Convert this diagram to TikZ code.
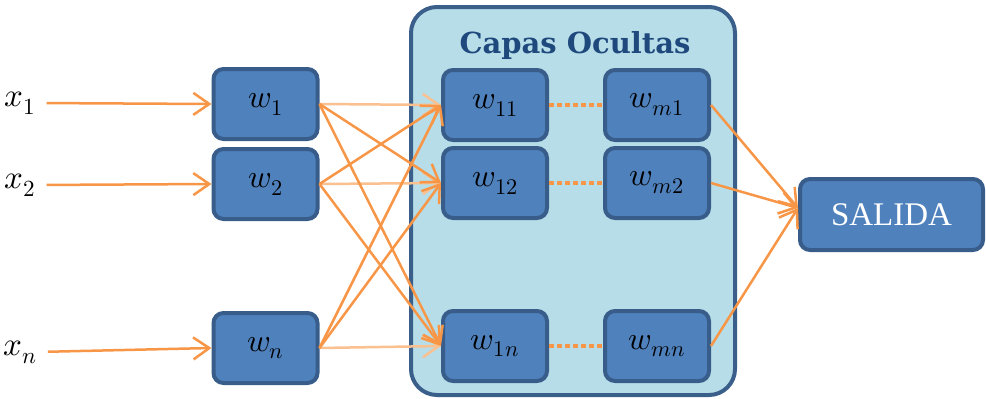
\documentclass[tikz,border=0pt]{standalone}
\usepackage{unicode-math}
\setmathfont{Latin Modern Math}
\usetikzlibrary{arrows.meta}
\newfontfamily\titlefont{DejaVu Serif}
\newfontfamily\boxfont{Liberation Serif}

\definecolor{boxfill}{RGB}{79,129,189}
\definecolor{boxline}{RGB}{56,93,138}
\definecolor{panelfill}{RGB}{183,222,232}
\definecolor{panelline}{RGB}{59,95,139}
\definecolor{link}{RGB}{247,150,70}
\definecolor{linklight}{RGB}{250,192,144}
\definecolor{titleblue}{RGB}{31,73,125}

\tikzset{
  unit/.style={draw=boxline, fill=boxfill, line width=4pt, rounded corners=10pt,
    minimum width=104pt, minimum height=70pt, inner sep=0pt,
    font=\fontsize{32}{34}\selectfont},
  outbox/.style={unit, minimum width=183pt, minimum height=71pt,
    font=\boxfont\fontsize{33}{36}\selectfont, text=white},
  panel/.style={draw=panelline, fill=panelfill, line width=4pt, rounded corners=26pt},
  inlabel/.style={inner sep=0pt, font=\fontsize{33}{35}\selectfont},
  tip/.style={-{Straight Barb[length=16pt,width=22pt]}},
  feed/.style={tip, draw=link, line width=2.5pt},
  feedlight/.style={tip, draw=linklight, line width=2.5pt},
  chain/.style={draw=link, line width=4pt, dash pattern=on 5pt off 3pt},
}

\begin{document}
\begin{tikzpicture}[x=1pt,y=-1pt]
\useasboundingbox (0,0) rectangle (986,399);

% hidden-layer container
\draw[panel] (411,7) rectangle (735,395);
\node[font=\titlefont\bfseries\fontsize{29}{32}\selectfont, text=titleblue]
  (title) at (575,45) {Capas Ocultas};

% inputs
\node[inlabel] (x1) at (20,103) {$x_1$};
\node[inlabel] (x2) at (20,185) {$x_2$};
\node[inlabel] (xn) at (20,352) {$x_n$};

% first layer
\node[unit] (w1) at (265.5,104) {$w_1$};
\node[unit] (w2) at (265.5,184) {$w_2$};
\node[unit] (wn) at (265.5,348) {$w_n$};

% hidden layers
\node[unit] (w11) at (495,105) {$w_{11}$};
\node[unit] (w12) at (495,183) {$w_{12}$};
\node[unit] (w1n) at (495,346) {$w_{1n}$};
\node[unit] (wm1) at (657,105) {$w_{m1}$};
\node[unit] (wm2) at (657,183) {$w_{m2}$};
\node[unit] (wmn) at (657,346) {$w_{mn}$};

% output
\node[outbox] (out) at (891.5,214.5) {SALIDA};
\coordinate (outin) at (798,208);

% input arrows
\draw[feed, shorten <=11pt] (x1.east) -- (w1.west);
\draw[feed, shorten <=11pt] (x2.east) -- (w2.west);
\draw[feed, shorten <=11pt] (xn.east) -- (wn.west);

% first layer to hidden layer
\draw[feedlight] (w1.east) -- (w11.west);
\draw[feedlight] (w2.east) -- (w12.west);
\draw[feedlight] (wn.east) -- (w1n.west);
\draw[feed] (w1.east) -- (w12.west);
\draw[feed] (w1.east) -- (w1n.west);
\draw[feed] (w2.east) -- (w11.west);
\draw[feed] (w2.east) -- (w1n.west);
\draw[feed] (wn.east) -- (w11.west);
\draw[feed] (wn.east) -- (w12.west);

% chains across the hidden layers
\draw[chain] (w11.east) -- (wm1.west);
\draw[chain] (w12.east) -- (wm2.west);
\draw[chain] (w1n.east) -- (wmn.west);

% hidden layer to output
\draw[feed] (wm1.east) -- (outin);
\draw[feed] (wm2.east) -- (outin);
\draw[feed] (wmn.east) -- (outin);
\end{tikzpicture}
\end{document}
